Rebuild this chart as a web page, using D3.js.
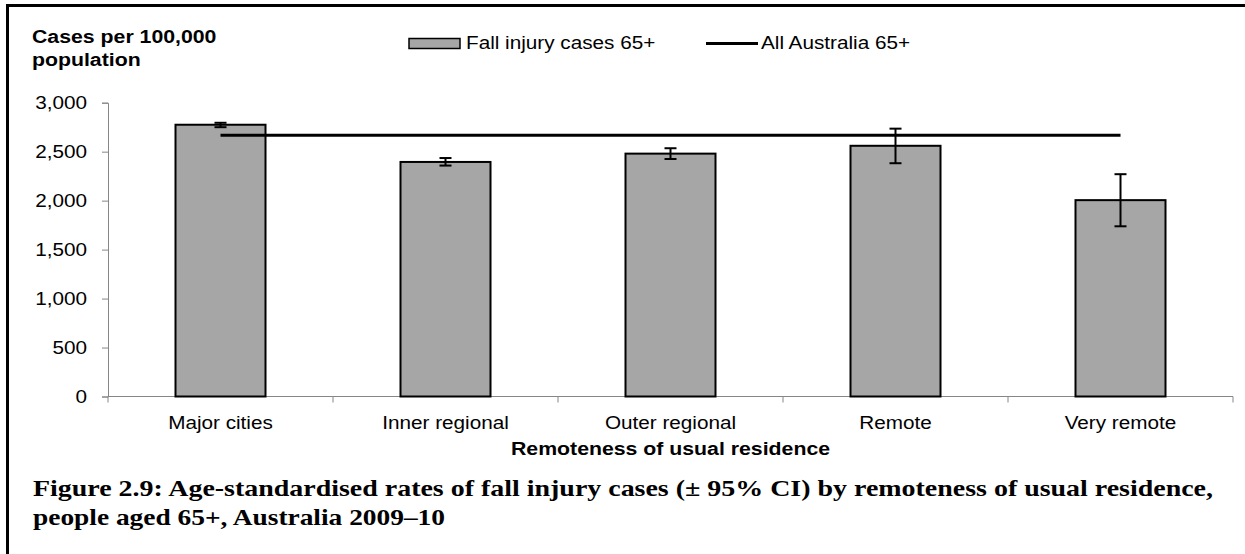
<!DOCTYPE html>
<html>
<head>
<meta charset="utf-8">
<script src="https://cdn.jsdelivr.net/npm/d3@7"></script>
<style>
  html, body { margin: 0; padding: 0; background: #fff; }
  svg { display: block; }
</style>
</head>
<body>
<svg id="chart" width="1245" height="554"></svg>
<script>
// データ
const categories = ["Major cities", "Inner regional", "Outer regional", "Remote", "Very remote"];
const rates = [2775, 2395, 2480, 2560, 2005];
const ciLow = [2750, 2358, 2425, 2382, 1738];
const ciHigh = [2795, 2435, 2535, 2735, 2270];
const allAustralia = 2668;
const yTicks = [0, 500, 1000, 1500, 2000, 2500, 3000];

const captionLines = [
    "Figure 2.9: Age-standardised rates of fall injury cases (\u00b1 95% CI) by remoteness of usual residence,",
    "people aged 65+, Australia 2009\u201310"
];

const SANS = "'Liberation Sans', Arial, sans-serif";
const SERIF = "'Liberation Serif', 'Times New Roman', serif";
const STRETCH = 1.12;   // 元画像は横に少し伸びている
const BAR_FILL = "#a6a6a6";
const AXIS_GRAY = "#868686";

const svg = d3.select("#chart");

// 横に伸ばしたテキストを置く
function label(x, y, text, opts = {}) {
    return svg.append("text")
        .attr("transform", `translate(${x},${y}) scale(${STRETCH},1)`)
        .attr("font-family", opts.family || SANS)
        .attr("font-size", opts.size || 18.5)
        .attr("font-weight", opts.bold ? "bold" : "normal")
        .attr("text-anchor", opts.anchor || "start")
        .attr("fill", "#000")
        .text(text);
}

// 枠線（上と左のみ見える）
svg.append("path")
    .attr("d", "M7.5,560 V5.5 H1250")
    .attr("fill", "none")
    .attr("stroke", "#000")
    .attr("stroke-width", 3);

// スケール
const x = d3.scaleBand()
    .domain(categories)
    .range([108, 1233])
    .paddingInner(0.6)
    .paddingOuter(0.3);

const y = d3.scaleLinear()
    .domain([0, 3000])
    .range([396.5, 102.7]);

// Y軸
const yAxis = svg.append("g")
    .attr("transform", "translate(108,0)")
    .call(d3.axisLeft(y).tickValues(yTicks).tickFormat(d3.format(",")).tickSize(6));
yAxis.select(".domain").attr("stroke", AXIS_GRAY);
yAxis.selectAll(".tick line").attr("stroke", AXIS_GRAY);
yAxis.selectAll("text")
    .attr("x", 0)
    .attr("transform", `translate(-21,0) scale(${STRETCH},1)`)
    .attr("font-family", SANS)
    .attr("font-size", 18.5)
    .attr("fill", "#000");

// X軸
const xAxis = svg.append("g")
    .attr("transform", `translate(0,${y(0)})`)
    .call(d3.axisBottom(x).tickSize(0));
xAxis.select(".domain").remove();
xAxis.selectAll("text")
    .attr("y", 0)
    .attr("dy", 0)
    .attr("transform", `translate(0,32.5) scale(${STRETCH},1)`)
    .attr("font-family", SANS)
    .attr("font-size", 18.5)
    .attr("fill", "#000");

const [x0, x1] = x.range();
svg.append("line")
    .attr("x1", x0).attr("x2", x1)
    .attr("y1", y(0)).attr("y2", y(0))
    .attr("stroke", AXIS_GRAY);
svg.selectAll(".xbound")
    .data(d3.range(categories.length + 1))
    .join("line")
    .attr("class", "xbound")
    .attr("x1", i => x0 + i * x.step())
    .attr("x2", i => x0 + i * x.step())
    .attr("y1", y(0))
    .attr("y2", y(0) + 6)
    .attr("stroke", AXIS_GRAY);

// 棒
svg.selectAll(".bar")
    .data(categories)
    .join("rect")
    .attr("class", "bar")
    .attr("x", d => x(d))
    .attr("y", (d, i) => y(rates[i]))
    .attr("width", x.bandwidth())
    .attr("height", (d, i) => y(0) - y(rates[i]))
    .attr("fill", BAR_FILL)
    .attr("stroke", "#000")
    .attr("stroke-width", 2);

// 全豪州の線
svg.append("line")
    .attr("x1", x(categories[0]) + x.bandwidth() / 2)
    .attr("x2", x(categories[categories.length - 1]) + x.bandwidth() / 2)
    .attr("y1", y(allAustralia))
    .attr("y2", y(allAustralia))
    .attr("stroke", "#000")
    .attr("stroke-width", 3);

// 誤差棒
const err = svg.selectAll(".err")
    .data(categories)
    .join("g")
    .attr("class", "err")
    .attr("transform", d => `translate(${x(d) + x.bandwidth() / 2},0)`)
    .attr("stroke", "#000")
    .attr("stroke-width", 2);
err.append("line")
    .attr("y1", (d, i) => y(ciLow[i]))
    .attr("y2", (d, i) => y(ciHigh[i]));
err.append("line")
    .attr("x1", -6).attr("x2", 6)
    .attr("y1", (d, i) => y(ciLow[i]))
    .attr("y2", (d, i) => y(ciLow[i]));
err.append("line")
    .attr("x1", -6).attr("x2", 6)
    .attr("y1", (d, i) => y(ciHigh[i]))
    .attr("y2", (d, i) => y(ciHigh[i]));

// 軸タイトル
label(32, 43, "Cases per 100,000", { bold: true, size: 19 });
label(32, 66, "population", { bold: true, size: 19 });
label((x0 + x1) / 2, 455, "Remoteness of usual residence", { bold: true, size: 19, anchor: "middle" });

// 凡例
svg.append("rect")
    .attr("x", 409).attr("y", 38.5)
    .attr("width", 51).attr("height", 10)
    .attr("fill", BAR_FILL)
    .attr("stroke", "#000")
    .attr("stroke-width", 1.5);
label(466, 49, "Fall injury cases 65+");
svg.append("line")
    .attr("x1", 706).attr("x2", 758)
    .attr("y1", 43.5).attr("y2", 43.5)
    .attr("stroke", "#000")
    .attr("stroke-width", 3);
label(761, 49, "All Australia 65+");

// 図のキャプション
const captionWidths = [1180, 412];
captionLines.forEach((line, i) => {
    svg.append("text")
        .attr("x", 33)
        .attr("y", 496 + i * 29)
        .attr("font-family", SERIF)
        .attr("font-size", 24)
        .attr("font-weight", "bold")
        .attr("fill", "#000")
        .attr("textLength", captionWidths[i])
        .attr("lengthAdjust", "spacingAndGlyphs")
        .text(line);
});
</script>
</body>
</html>
